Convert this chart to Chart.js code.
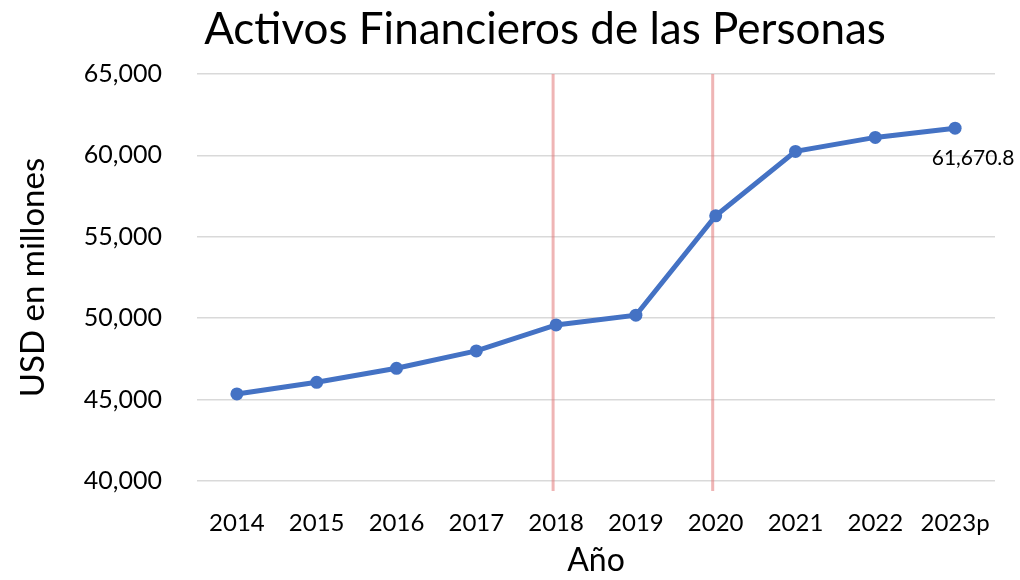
<!DOCTYPE html>
<html>
<head>
<meta charset="utf-8">
<script src="https://cdn.jsdelivr.net/npm/chart.js@4"></script>
<style>
html,body{margin:0;padding:0;background:#fff;}
#wrap{width:1020px;height:580px;position:relative;}
</style>
</head>
<body>
<div id="wrap"><canvas id="c" width="1020" height="580"></canvas></div>
<script>
const categories = ['2014','2015','2016','2017','2018','2019','2020','2021','2022','2023p'];
const values = [45350, 46063, 46923, 47991, 49588, 50184, 56290, 60246, 61106, 61670.8];
const markedYears = ['2018','2020'];
const labelledIndex = 9;
const titleText = 'Activos Financieros de las Personas';
const yTitle = 'USD en millones';
const xTitle = 'Año';

const FONT = 'Lato, "Open Sans", sans-serif';

const overlay = {
  id: 'overlay',
  beforeDatasetsDraw(chart) {
    const {ctx, chartArea, scales} = chart;
    ctx.save();
    ctx.strokeStyle = 'rgba(226,120,120,0.55)';
    ctx.lineWidth = 3;
    markedYears.forEach(y => {
      const x = scales.x.getPixelForValue(categories.indexOf(y)) - 3;
      ctx.beginPath();
      ctx.moveTo(x, chartArea.top);
      ctx.lineTo(x, chartArea.bottom + 10);
      ctx.stroke();
    });
    ctx.restore();
  },
  afterDraw(chart) {
    const {ctx} = chart;
    ctx.save();
    ctx.fillStyle = '#000';
    ctx.font = '44px ' + FONT;
    ctx.textAlign = 'center';
    ctx.textBaseline = 'middle';
    ctx.fillText(titleText, 545, 30);
    const meta = chart.getDatasetMeta(0);
    const pt = meta.data[labelledIndex];
    ctx.font = '21px ' + FONT;
    ctx.fillText(values[labelledIndex].toLocaleString('en-US', {minimumFractionDigits:1, maximumFractionDigits:1}), pt.x + 18, pt.y + 30);
    ctx.restore();
  }
};

new Chart(document.getElementById('c'), {
  type: 'line',
  data: {
    labels: categories,
    datasets: [{
      data: values,
      borderColor: '#4472C4',
      backgroundColor: '#4472C4',
      borderWidth: 5,
      pointRadius: 6.5,
      pointHoverRadius: 6.5,
      pointBorderWidth: 0,
      tension: 0
    }]
  },
  options: {
    responsive: false,
    animation: false,
    layout: { padding: { top: 74, right: 25, left: 0, bottom: 0 } },
    plugins: { legend: { display: false }, tooltip: { enabled: false } },
    scales: {
      x: {
        offset: true,
        grid: { display: false },
        border: { display: false },
        ticks: { color: '#000', font: { family: FONT, size: 24 }, padding: 20, maxRotation: 0, autoSkip: false },
        title: { display: true, text: xTitle, color: '#000', font: { family: FONT, size: 32 }, padding: { top: 4, bottom: 0 } },
        afterFit(s) { s.height = 99; }
      },
      y: {
        min: 40000, max: 65000,
        border: { display: false },
        grid: { color: '#d9d9d9', lineWidth: 1.5, drawTicks: false },
        ticks: { stepSize: 5000, color: '#000', font: { family: FONT, size: 25 }, padding: 35,
          callback: v => v.toLocaleString('en-US') },
        title: { display: true, text: yTitle, color: '#000', font: { family: FONT, size: 33 }, padding: { top: 14, bottom: 8 } },
        afterFit(s) { s.width = 197; }
      }
    }
  },
  plugins: [overlay]
});
</script>
</body>
</html>
